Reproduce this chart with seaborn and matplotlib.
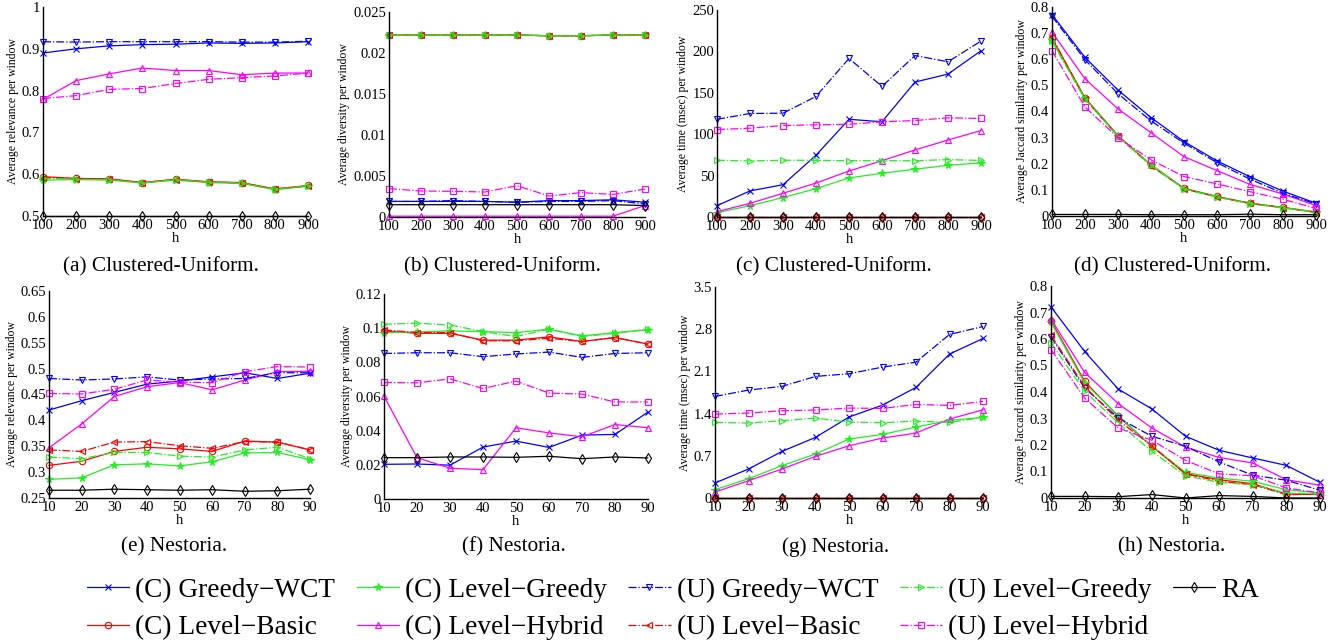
import numpy as np
import pandas as pd
import matplotlib
matplotlib.use("Agg")
import matplotlib.pyplot as plt
import seaborn as sns
from matplotlib.ticker import FuncFormatter

# ---------------- data ----------------
h_cu = [100, 200, 300, 400, 500, 600, 700, 800, 900]
h_ne = [10, 20, 30, 40, 50, 60, 70, 80, 90]

series = ["(C) Greedy−WCT", "(C) Level−Basic", "(C) Level−Greedy", "(C) Level−Hybrid",
          "(U) Greedy−WCT", "(U) Level−Basic", "(U) Level−Greedy", "(U) Level−Hybrid", "RA"]

# (a) Clustered-Uniform, relevance
rel_cu = {
    "(C) Greedy−WCT":   [0.890, 0.900, 0.907, 0.910, 0.911, 0.914, 0.913, 0.914, 0.917],
    "(C) Level−Basic":  [0.594, 0.590, 0.589, 0.580, 0.588, 0.582, 0.580, 0.565, 0.573],
    "(C) Level−Greedy": [0.586, 0.587, 0.586, 0.579, 0.586, 0.580, 0.578, 0.563, 0.571],
    "(C) Level−Hybrid": [0.779, 0.824, 0.840, 0.854, 0.848, 0.848, 0.838, 0.842, 0.842],
    "(U) Greedy−WCT":   [0.917, 0.916, 0.917, 0.917, 0.917, 0.917, 0.916, 0.916, 0.918],
    "(U) Level−Basic":  [0.592, 0.589, 0.588, 0.580, 0.587, 0.581, 0.579, 0.564, 0.572],
    "(U) Level−Greedy": [0.590, 0.588, 0.587, 0.579, 0.587, 0.581, 0.579, 0.564, 0.572],
    "(U) Level−Hybrid": [0.781, 0.788, 0.803, 0.805, 0.817, 0.827, 0.831, 0.835, 0.842],
    "RA":               [0.500, 0.500, 0.500, 0.500, 0.500, 0.500, 0.500, 0.500, 0.500],
}
# (b) Clustered-Uniform, diversity
div_cu = {
    "(C) Greedy−WCT":   [0.0019, 0.0019, 0.0019, 0.0019, 0.0018, 0.0020, 0.0020, 0.0021, 0.0018],
    "(C) Level−Basic":  [0.0222, 0.0222, 0.0222, 0.0222, 0.0222, 0.0221, 0.0221, 0.0222, 0.0222],
    "(C) Level−Greedy": [0.0222, 0.0222, 0.0222, 0.0222, 0.0222, 0.0221, 0.0221, 0.0222, 0.0222],
    "(C) Level−Hybrid": [0.0001, 0.0001, 0.0001, 0.0001, 0.0001, 0.0001, 0.0001, 0.0001, 0.0014],
    "(U) Greedy−WCT":   [0.0019, 0.0019, 0.0020, 0.0019, 0.0018, 0.0019, 0.0019, 0.0020, 0.0016],
    "(U) Level−Basic":  [0.0222, 0.0222, 0.0222, 0.0222, 0.0222, 0.0221, 0.0221, 0.0222, 0.0222],
    "(U) Level−Greedy": [0.0222, 0.0222, 0.0222, 0.0222, 0.0222, 0.0221, 0.0221, 0.0222, 0.0222],
    "(U) Level−Hybrid": [0.00346, 0.00317, 0.00313, 0.00305, 0.00382, 0.00256, 0.00297, 0.00276, 0.00341],
    "RA":               [0.0015, 0.0015, 0.0015, 0.0015, 0.0015, 0.0015, 0.0015, 0.0015, 0.0014],
}
# (c) Clustered-Uniform, time (msec)
time_cu = {
    "(C) Greedy−WCT":   [13.7, 31.5, 39.0, 74.6, 118.0, 115.0, 163.0, 172.6, 200.8],
    "(C) Level−Basic":  [0.3, 0.3, 0.3, 0.3, 0.3, 0.3, 0.3, 0.3, 0.3],
    "(C) Level−Greedy": [5.2, 13.7, 23.4, 34.3, 47.2, 52.8, 57.7, 62.5, 65.3],
    "(C) Level−Hybrid": [6.5, 16.5, 28.6, 41.0, 55.6, 68.0, 81.0, 93.0, 104.4],
    "(U) Greedy−WCT":   [118.0, 125.0, 125.4, 145.6, 191.5, 157.7, 195.0, 187.5, 212.5],
    "(U) Level−Basic":  [0.4, 0.4, 0.4, 0.4, 0.4, 0.4, 0.4, 0.4, 0.4],
    "(U) Level−Greedy": [68.5, 67.7, 68.5, 68.5, 68.0, 68.0, 68.0, 69.3, 68.3],
    "(U) Level−Hybrid": [105.6, 107.3, 110.5, 111.3, 112.0, 115.0, 116.5, 119.8, 119.0],
    "RA":               [0.0, 0.0, 0.0, 0.0, 0.0, 0.0, 0.0, 0.0, 0.0],
}
# (d) Clustered-Uniform, Jaccard
jac_cu = {
    "(C) Greedy−WCT":   [0.771, 0.607, 0.482, 0.377, 0.285, 0.211, 0.150, 0.095, 0.049],
    "(C) Level−Basic":  [0.680, 0.452, 0.308, 0.195, 0.106, 0.075, 0.049, 0.033, 0.015],
    "(C) Level−Greedy": [0.672, 0.450, 0.306, 0.197, 0.105, 0.074, 0.048, 0.032, 0.016],
    "(C) Level−Hybrid": [0.704, 0.525, 0.410, 0.319, 0.227, 0.174, 0.121, 0.084, 0.040],
    "(U) Greedy−WCT":   [0.764, 0.598, 0.468, 0.364, 0.279, 0.204, 0.141, 0.087, 0.046],
    "(U) Level−Basic":  [0.685, 0.448, 0.305, 0.192, 0.104, 0.073, 0.048, 0.032, 0.013],
    "(U) Level−Greedy": [0.668, 0.447, 0.304, 0.194, 0.103, 0.072, 0.047, 0.031, 0.014],
    "(U) Level−Hybrid": [0.633, 0.417, 0.300, 0.215, 0.151, 0.123, 0.093, 0.064, 0.029],
    "RA":               [0.006, 0.006, 0.006, 0.005, 0.005, 0.005, 0.007, 0.005, 0.005],
}
# (e) Nestoria, relevance
rel_ne = {
    "(C) Greedy−WCT":   [0.420, 0.438, 0.454, 0.470, 0.476, 0.484, 0.492, 0.481, 0.491],
    "(C) Level−Basic":  [0.313, 0.321, 0.340, 0.348, 0.345, 0.340, 0.360, 0.358, 0.343],
    "(C) Level−Greedy": [0.286, 0.289, 0.314, 0.316, 0.312, 0.320, 0.337, 0.338, 0.324],
    "(C) Level−Hybrid": [0.347, 0.393, 0.446, 0.465, 0.473, 0.459, 0.478, 0.494, 0.495],
    "(U) Greedy−WCT":   [0.481, 0.478, 0.480, 0.484, 0.478, 0.480, 0.481, 0.492, 0.492],
    "(U) Level−Basic":  [0.343, 0.340, 0.358, 0.359, 0.351, 0.346, 0.359, 0.358, 0.343],
    "(U) Level−Greedy": [0.329, 0.326, 0.338, 0.338, 0.331, 0.329, 0.343, 0.348, 0.326],
    "(U) Level−Hybrid": [0.452, 0.451, 0.460, 0.478, 0.474, 0.473, 0.494, 0.504, 0.503],
    "RA":               [0.265, 0.265, 0.267, 0.266, 0.265, 0.266, 0.263, 0.264, 0.267],
}
# (f) Nestoria, diversity
div_ne = {
    "(C) Greedy−WCT":   [0.0203, 0.0205, 0.0198, 0.0304, 0.0339, 0.0302, 0.0374, 0.0378, 0.0509],
    "(C) Level−Basic":  [0.0984, 0.0970, 0.0970, 0.0930, 0.0930, 0.0949, 0.0922, 0.0945, 0.0907],
    "(C) Level−Greedy": [0.0974, 0.0978, 0.0984, 0.0980, 0.0974, 0.0994, 0.0955, 0.0974, 0.0990],
    "(C) Level−Hybrid": [0.0602, 0.0242, 0.0180, 0.0172, 0.0417, 0.0387, 0.0364, 0.0436, 0.0417],
    "(U) Greedy−WCT":   [0.0852, 0.0856, 0.0856, 0.0833, 0.0849, 0.0860, 0.0829, 0.0852, 0.0856],
    "(U) Level−Basic":  [0.0990, 0.0974, 0.0974, 0.0926, 0.0926, 0.0941, 0.0922, 0.0945, 0.0907],
    "(U) Level−Greedy": [0.1023, 0.1029, 0.1019, 0.0980, 0.0951, 0.0994, 0.0951, 0.0970, 0.0994],
    "(U) Level−Hybrid": [0.0682, 0.0680, 0.0703, 0.0647, 0.0690, 0.0620, 0.0614, 0.0568, 0.0568],
    "RA":               [0.0242, 0.0242, 0.0246, 0.0246, 0.0244, 0.0250, 0.0236, 0.0246, 0.0240],
}
# (g) Nestoria, time (msec)
time_ne = {
    "(C) Greedy−WCT":   [0.249, 0.481, 0.773, 1.006, 1.343, 1.541, 1.834, 2.387, 2.646],
    "(C) Level−Basic":  [0.005, 0.005, 0.005, 0.005, 0.005, 0.005, 0.005, 0.005, 0.005],
    "(C) Level−Greedy": [0.138, 0.320, 0.536, 0.729, 0.978, 1.055, 1.177, 1.287, 1.337],
    "(C) Level−Hybrid": [0.099, 0.287, 0.481, 0.691, 0.867, 0.994, 1.077, 1.309, 1.464],
    "(U) Greedy−WCT":   [1.685, 1.790, 1.851, 2.017, 2.061, 2.171, 2.254, 2.713, 2.845],
    "(U) Level−Basic":  [0.006, 0.006, 0.006, 0.006, 0.006, 0.006, 0.006, 0.006, 0.006],
    "(U) Level−Greedy": [1.254, 1.243, 1.282, 1.326, 1.260, 1.249, 1.276, 1.254, 1.337],
    "(U) Level−Hybrid": [1.392, 1.409, 1.448, 1.459, 1.492, 1.486, 1.552, 1.536, 1.602],
    "RA":               [0.0, 0.0, 0.0, 0.0, 0.0, 0.0, 0.0, 0.0, 0.0],
}
# (h) Nestoria, Jaccard
jac_ne = {
    "(C) Greedy−WCT":   [0.721, 0.553, 0.411, 0.336, 0.233, 0.180, 0.151, 0.123, 0.059],
    "(C) Level−Basic":  [0.669, 0.440, 0.308, 0.195, 0.092, 0.069, 0.054, 0.015, 0.013],
    "(C) Level−Greedy": [0.663, 0.434, 0.311, 0.195, 0.097, 0.075, 0.063, 0.031, 0.019],
    "(C) Level−Hybrid": [0.675, 0.474, 0.356, 0.264, 0.192, 0.153, 0.132, 0.069, 0.048],
    "(U) Greedy−WCT":   [0.608, 0.415, 0.302, 0.233, 0.195, 0.136, 0.086, 0.067, 0.029],
    "(U) Level−Basic":  [0.614, 0.421, 0.293, 0.197, 0.091, 0.063, 0.050, 0.013, 0.014],
    "(U) Level−Greedy": [0.585, 0.403, 0.283, 0.176, 0.084, 0.059, 0.050, 0.019, 0.015],
    "(U) Level−Hybrid": [0.560, 0.377, 0.264, 0.218, 0.142, 0.091, 0.084, 0.038, 0.019],
    "RA":               [0.006, 0.006, 0.005, 0.013, 0.000, 0.009, 0.006, 0.000, 0.000],
}

ylabels = ["Average relevance per window", "Average diversity per window",
           "Average time (msec) per window", "Average Jaccard similarity per window"]
captions = ["(a) Clustered-Uniform.", "(b) Clustered-Uniform.", "(c) Clustered-Uniform.",
            "(d) Clustered-Uniform.", "(e) Nestoria.", "(f) Nestoria.", "(g) Nestoria.", "(h) Nestoria."]
yticks_list = [
    [0.5, 0.6, 0.7, 0.8, 0.9, 1.0],
    [0, 0.005, 0.01, 0.015, 0.02, 0.025],
    [0, 50, 100, 150, 200, 250],
    [0, 0.1, 0.2, 0.3, 0.4, 0.5, 0.6, 0.7, 0.8],
    [0.25, 0.3, 0.35, 0.4, 0.45, 0.5, 0.55, 0.6, 0.65],
    [0, 0.02, 0.04, 0.06, 0.08, 0.1, 0.12],
    [0, 0.7, 1.4, 2.1, 2.8, 3.5],
    [0, 0.1, 0.2, 0.3, 0.4, 0.5, 0.6, 0.7, 0.8],
]

# ---------------- styles ----------------
BLUE, RED, GREEN, MAG = "#0000ff", "#ff0000", "#22ee22", "#ff00ff"
styles = {
    "(C) Greedy−WCT":   dict(color=BLUE, marker="x", ls="-", fill=False),
    "(C) Level−Basic":  dict(color=RED, marker="o", ls="-", fill=False),
    "(C) Level−Greedy": dict(color=GREEN, marker="*", ls="-", fill=True),
    "(C) Level−Hybrid": dict(color=MAG, marker="^", ls="-", fill=False),
    "(U) Greedy−WCT":   dict(color=BLUE, marker="v", ls="-.", fill=False),
    "(U) Level−Basic":  dict(color=RED, marker="<", ls="-.", fill=False),
    "(U) Level−Greedy": dict(color=GREEN, marker=">", ls="-.", fill=False),
    "(U) Level−Hybrid": dict(color=MAG, marker="s", ls="-.", fill=False),
    "RA":               dict(color="black", marker="d", ls="-", fill=False),
}

sns.set_theme(style="white")
plt.rcParams["font.family"] = ["Liberation Serif", "DejaVu Serif"]
plt.rcParams["axes.edgecolor"] = "black"
plt.rcParams["xtick.color"] = "black"
plt.rcParams["ytick.color"] = "black"
plt.rcParams["text.color"] = "black"
plt.rcParams["axes.labelcolor"] = "black"

W, H = 1344, 644
fig = plt.figure(figsize=(W / 100, H / 100), dpi=100)

# axes boxes in pixels: left, right, top, bottom
boxes = [
    (43, 308, 7, 216), (389, 645, 12, 217), (717, 981, 10, 217), (1052, 1316, 7, 216),
    (49, 310, 291, 498), (384, 648, 294, 499), (715, 983, 287, 498), (1051, 1320, 286, 498),
]
cap_x = [161, 502, 834, 1172, 174, 514, 836, 1172]
cap_y = [267, 267, 267, 267, 547, 547, 547, 547]

panels = [rel_cu, div_cu, time_cu, jac_cu, rel_ne, div_ne, time_ne, jac_ne]
fmt = FuncFormatter(lambda v, p: f"{v:g}")

handles = {}
for i, data in enumerate(panels):
    l, r, t, b = boxes[i]
    ax = fig.add_axes([l / W, 1 - b / H, (r - l) / W, (b - t) / H])
    hx = h_cu if i < 4 else h_ne
    for name in series:
        st = styles[name]
        sns.lineplot(x=hx, y=data[name], ax=ax, color=st["color"], linestyle=st["ls"],
                     marker=st["marker"], markersize=4.6 if st["marker"] != "*" else 5.5,
                     markeredgecolor=st["color"], markeredgewidth=0.8,
                     markerfacecolor=st["color"] if st["fill"] else "none",
                     linewidth=0.9, label=name, clip_on=False)
    if ax.get_legend() is not None:
        ax.get_legend().remove()
    if i == 0:
        hs, ls_ = ax.get_legend_handles_labels()
        handles = dict(zip(ls_, hs))
    ax.set_xlim(hx[0], hx[-1])
    yt = yticks_list[i]
    ax.set_ylim(yt[0], yt[-1])
    ax.set_yticks(yt)
    ax.set_xticks(hx)
    ax.yaxis.set_major_formatter(fmt)
    ax.tick_params(direction="in", length=3, width=0.8, labelsize=10.5, pad=2)
    sns.despine(ax=ax)
    for s in ("left", "bottom"):
        ax.spines[s].set_linewidth(1.0)
    ax.set_xlabel("h", fontsize=10.5, labelpad=0)
    ax.set_ylabel(ylabels[i % 4], fontsize=8.5, labelpad=2)
    fig.text(cap_x[i] / W, 1 - cap_y[i] / H, captions[i], ha="center", va="center", fontsize=15.3)

order = ["(C) Greedy−WCT", "(C) Level−Basic", "(C) Level−Greedy", "(C) Level−Hybrid",
         "(U) Greedy−WCT", "(U) Level−Basic", "(U) Level−Greedy", "(U) Level−Hybrid", "RA"]
leg = fig.legend([handles[n] for n in order], order, loc="center",
                 bbox_to_anchor=(673 / W, 1 - 609 / H), ncol=5, frameon=False,
                 fontsize=19.6, handlelength=1.55, handletextpad=0.22, columnspacing=0.8,
                 labelspacing=0.46, borderpad=0, borderaxespad=0, numpoints=1)

fig.savefig("out.png", dpi=100)
